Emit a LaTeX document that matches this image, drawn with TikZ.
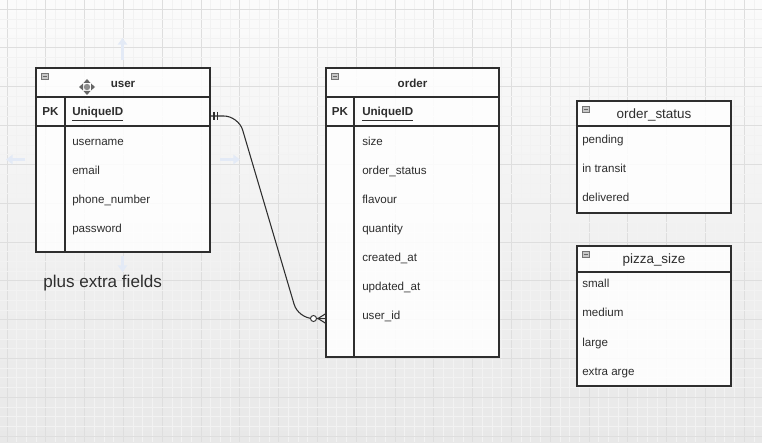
\documentclass[tikz,border=0pt]{standalone}
\usepackage{fontspec}
\setmainfont{Liberation Sans}
\usetikzlibrary{arrows.meta}
\definecolor{ink}{HTML}{2E2E2E}
\definecolor{bgtop}{HTML}{FBFBFB}
\definecolor{bgbot}{HTML}{E8E8E8}
\definecolor{hoverblue}{HTML}{E3EAF6}
\begin{document}
\begin{tikzpicture}[x=0.75pt,y=-0.75pt,
  major/.style={draw=black!13, line width=0.6pt},
  minor/.style={draw=black!5, line width=0.4pt},
  tbl/.style={draw=ink, line width=0.9pt, fill=white, fill opacity=0.85},
  sep/.style={draw=ink, line width=0.9pt},
  fld/.style={anchor=base west, inner sep=0pt, text=ink, font=\fontsize{8.7}{10}\selectfont},
  key/.style={fld, font=\fontsize{8.7}{10}\selectfont\bfseries},
  pk/.style={anchor=base, inner sep=0pt, text=ink, font=\fontsize{8.7}{10}\selectfont\bfseries},
  ttl/.style={anchor=base, inner sep=0pt, text=ink, font=\fontsize{8.7}{10}\selectfont\bfseries},
  etl/.style={anchor=base, inner sep=0pt, text=ink, font=\fontsize{10.1}{12}\selectfont},
  note/.style={anchor=base west, inner sep=0pt, text=ink, font=\fontsize{12.8}{15}\selectfont},
  coll/.style={draw=black!55, fill=black!22, line width=0.5pt},
  rel/.style={draw=ink, line width=0.8pt},
  hover/.style={draw=hoverblue, line width=2.5pt, -{Triangle[length=5pt,width=7pt]}}
]
\useasboundingbox (0,0) rectangle (762,442);
% background
\shade[top color=bgtop, bottom color=bgbot] (0,0) rectangle (762,442);
\foreach \k in {0,...,78}{
  \pgfmathtruncatemacro\m{mod(\k,4)}
  \ifnum\m=0 \draw[major] (6.9+9.7*\k,0) -- (6.9+9.7*\k,442);
  \else \draw[minor] (6.9+9.7*\k,0) -- (6.9+9.7*\k,442); \fi
}
\foreach \k in {0,...,45}{
  \pgfmathtruncatemacro\m{mod(\k,4)}
  \ifnum\m=0 \draw[major] (0,9.1+9.7*\k) -- (762,9.1+9.7*\k);
  \else \draw[minor] (0,9.1+9.7*\k) -- (762,9.1+9.7*\k); \fi
}
% hover arrows (faint)
\draw[hover] (122.5,60) -- (122.5,38);
\draw[hover] (25,159.5) -- (6,159.5);
\draw[hover] (220,159.5) -- (240,159.5);
\draw[hover] (122.5,256) -- (122.5,272);

% ---------- user table ----------
\draw[tbl] (36,68) rectangle (210,252);
\draw[sep] (36,97) -- (210,97);
\draw[sep] (36,126) -- (210,126);
\draw[sep] (65,97) -- (65,252);
\draw[coll] (41,73) rectangle (48,79);
\draw[black!60, line width=0.6pt] (42.5,76) -- (46.5,76);
\node[ttl] (userT) at (123,88) {user};
\node[pk] (userPK) at (50.5,116) {PK};
\node[key] (userID) at (72,116) {\underline{UniqueID}};
\node[fld] (userF1) at (72,145) {username};
\node[fld] (userF2) at (72,174) {email};
\node[fld] (userF3) at (72,203) {phone\_number};
\node[fld] (userF4) at (72,232) {password};
% move cursor icon
\fill[black!45] (87,87) circle (3.2);
\fill[black!60] (87,79) -- (83.5,83) -- (90.5,83) -- cycle;
\fill[black!60] (87,95) -- (83.5,91) -- (90.5,91) -- cycle;
\fill[black!60] (79,87) -- (83,83.5) -- (83,90.5) -- cycle;
\fill[black!60] (95,87) -- (91,83.5) -- (91,90.5) -- cycle;

\node[note] (extra) at (43,287) {plus extra fields};

% ---------- order table ----------
\draw[tbl] (326,68) rectangle (499,357);
\draw[sep] (326,97) -- (499,97);
\draw[sep] (326,126) -- (499,126);
\draw[sep] (354,97) -- (354,357);
\draw[coll] (331,73) rectangle (338,79);
\draw[black!60, line width=0.6pt] (332.5,76) -- (336.5,76);
\node[ttl] (orderT) at (412.5,88) {order};
\node[pk] (orderPK) at (340,116) {PK};
\node[key] (orderID) at (362,116) {\underline{UniqueID}};
\node[fld] (orderF1) at (362,145) {size};
\node[fld] (orderF2) at (362,174) {order\_status};
\node[fld] (orderF3) at (362,203) {flavour};
\node[fld] (orderF4) at (362,232) {quantity};
\node[fld] (orderF5) at (362,261) {created\_at};
\node[fld] (orderF6) at (362,290) {updated\_at};
\node[fld] (orderF7) at (362,319) {user\_id};

% ---------- order_status ----------
\draw[tbl] (577,101) rectangle (731,213);
\draw[sep] (577,126) -- (731,126);
\draw[coll] (582,106) rectangle (589,112);
\draw[black!60, line width=0.6pt] (583.5,109) -- (587.5,109);
\node[etl] (osT) at (654,118) {order\_status};
\node[fld] (os1) at (582,143) {pending};
\node[fld] (os2) at (582,172) {in transit};
\node[fld] (os3) at (582,201) {delivered};

% ---------- pizza_size ----------
\draw[tbl] (577,246) rectangle (731,386);
\draw[sep] (577,272) -- (731,272);
\draw[coll] (582,251) rectangle (589,257);
\draw[black!60, line width=0.6pt] (583.5,254) -- (587.5,254);
\node[etl] (psT) at (654,263) {pizza\_size};
\node[fld] (ps1) at (582,287) {small};
\node[fld] (ps2) at (582,316) {medium};
\node[fld] (ps3) at (582,346) {large};
\node[fld] (ps4) at (582,375) {extra arge};

% ---------- relation ----------
\coordinate (relA) at (210,116);
\coordinate (relB) at (326,318.5);
\coordinate (crow) at (318,318.5);
\draw[rel, rounded corners=11pt] (relA) -- (238.5,116) -- (298.3,318.5) -- (crow);
\draw[rel] (214,112) -- (214,120);
\draw[rel] (217.5,112) -- (217.5,120);
\node[circle, draw=ink, fill=white, line width=0.7pt, inner sep=0pt, minimum size=4.5pt] (zero) at (313.5,318.5) {};
\draw[rel] (crow) -- (relB);
\draw[rel] (crow) -- (326,313.5);
\draw[rel] (crow) -- (326,323.5);
\end{tikzpicture}
\end{document}
